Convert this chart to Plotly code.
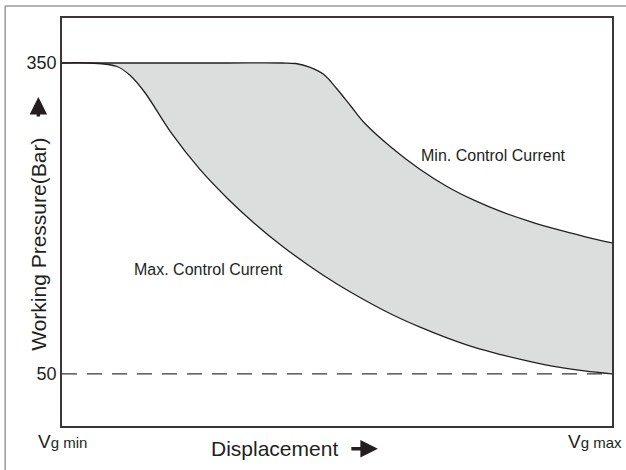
import plotly.graph_objects as go

# Displacement in % of Vg max, working pressure in bar
disp_max_current = [0, 5, 10, 12.5, 15, 20, 25, 30, 35, 40, 45, 50, 55, 60, 65, 70, 75, 80, 85, 90, 95, 100]
press_max_current = [350, 350, 346.6, 337.5, 322, 281.5, 247.8, 219.8, 195.2, 173.5, 154.2, 136.8,
                     121.4, 107.4, 95.4, 84.8, 75.6, 68.4, 62.1, 56.8, 52.9, 50]

disp_min_current = [0, 10, 20, 30, 40, 42.5, 45, 47.5, 50, 52.5, 55, 60, 65, 70, 75, 80, 85, 90, 95, 100]
press_min_current = [350, 350, 350, 350, 350, 349.5, 346.1, 339.4, 324.9, 308.5, 292.1, 268, 247.8,
                     230.9, 217.4, 206.3, 197.2, 189.4, 182.6, 176.4]

min_pressure = 50
pressure_ticks = [50, 350]
disp_labels = ["V<span style='font-size:15px'>g min</span>", "V<span style='font-size:15px'>g max</span>"]

LINE = "#231f20"
FILL = "#dcdddd"
FRAME = "#9a9a9a"
FONT = "Arial, Liberation Sans, sans-serif"

fig = go.Figure()
fig.add_trace(go.Scatter(
    x=disp_max_current, y=press_max_current, mode="lines",
    line=dict(color=LINE, width=1.3, shape="spline", smoothing=1),
    hoverinfo="skip",
))
fig.add_trace(go.Scatter(
    x=disp_min_current, y=press_min_current, mode="lines",
    line=dict(color=LINE, width=1.3, shape="spline", smoothing=1),
    fill="tonexty", fillcolor=FILL,
    hoverinfo="skip",
))
fig.add_trace(go.Scatter(
    x=[0, 100], y=[min_pressure, min_pressure], mode="lines",
    line=dict(color="#3a3536", width=1.3, dash="15px,10px"),
    hoverinfo="skip",
))

# curve labels
fig.add_annotation(x=26.6, y=151, text="Max. Control Current", showarrow=False,
                   font=dict(size=16, color=LINE, family=FONT))
fig.add_annotation(x=78.4, y=261, text="Min. Control Current", showarrow=False,
                   font=dict(size=16, color=LINE, family=FONT))

# displacement end labels
fig.add_annotation(x=0, y=-0.037, xref="x", yref="paper", text=disp_labels[0], showarrow=False,
                   xanchor="center", yanchor="middle", font=dict(size=19, color=LINE, family=FONT))
fig.add_annotation(x=1.021, y=-0.037, xref="paper", yref="paper", text=disp_labels[1], showarrow=False,
                   xanchor="right", yanchor="middle", font=dict(size=19, color=LINE, family=FONT))

# axis titles with arrows
fig.add_annotation(x=0.386, y=-0.056, xref="paper", yref="paper", text="Displacement", showarrow=False,
                   xanchor="center", yanchor="middle", font=dict(size=21, color=LINE, family=FONT))
fig.add_annotation(x=(379 - 62) / 552, y=-0.056, xref="paper", yref="paper", showarrow=True,
                   ax=-28, ay=0, arrowhead=2, arrowsize=1, arrowwidth=3.5, arrowcolor=LINE, text="")
fig.add_annotation(x=-0.043, y=0.445, xref="paper", yref="paper", text="Working Pressure(Bar)", showarrow=False,
                   textangle=-90, xanchor="center", yanchor="middle", font=dict(size=21, color=LINE, family=FONT))
fig.add_annotation(x=-0.043, y=(426 - 97) / 408, xref="paper", yref="paper", showarrow=True,
                   ax=0, ay=21, arrowhead=2, arrowsize=1, arrowwidth=3.5, arrowcolor=LINE, text="")

# outer frame (top and left edges)
fig.add_shape(type="line", xref="paper", yref="paper", x0=-0.1033, y0=1.0294, x1=1.03, y1=1.0294,
              line=dict(color=FRAME, width=1.5))
fig.add_shape(type="line", xref="paper", yref="paper", x0=-0.1033, y0=1.0294, x1=-0.1033, y1=-0.11,
              line=dict(color=FRAME, width=1.5))

fig.update_layout(
    width=626, height=470,
    paper_bgcolor="white", plot_bgcolor="white",
    showlegend=False,
    margin=dict(l=62, r=12, t=18, b=44),
    font=dict(family=FONT, color=LINE),
    xaxis=dict(range=[0, 100], showgrid=False, zeroline=False, showticklabels=False,
               showline=True, linecolor="#3a3536", linewidth=1.5, mirror=True, fixedrange=True),
    yaxis=dict(range=[-0.2, 393.4], showgrid=False, zeroline=False,
               tickvals=pressure_ticks, ticktext=[str(v) for v in pressure_ticks],
               tickfont=dict(size=18, color=LINE, family=FONT), ticks="",
               showline=True, linecolor="#3a3536", linewidth=1.5, mirror=True, fixedrange=True),
)

fig.write_html("out.html", config=dict(displayModeBar=False),
               post_script="document.body.style.margin='0px';")
